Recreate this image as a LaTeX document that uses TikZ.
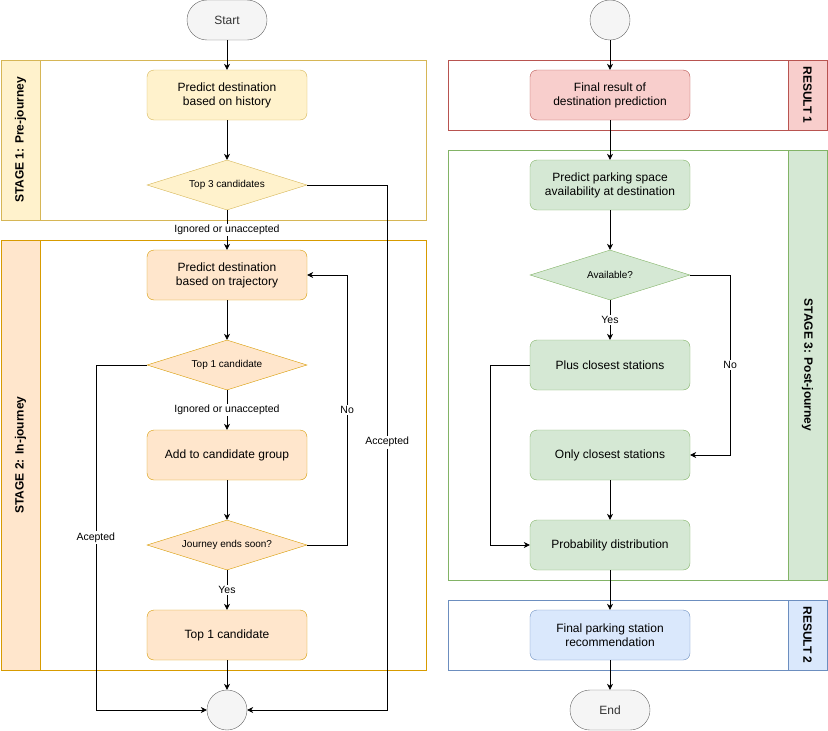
\documentclass[tikz,border=0pt]{standalone}
\usepackage{fontspec}
\setmainfont{Liberation Sans}
\usetikzlibrary{shapes.geometric, arrows.meta}

\definecolor{yelfill}{HTML}{FFF2CC}
\definecolor{yelline}{HTML}{D6B656}
\definecolor{orafill}{HTML}{FFE6CC}
\definecolor{oraline}{HTML}{D79B00}
\definecolor{redfill}{HTML}{F8CECC}
\definecolor{redline}{HTML}{B85450}
\definecolor{grnfill}{HTML}{D5E8D4}
\definecolor{grnline}{HTML}{82B366}
\definecolor{blufill}{HTML}{DAE8FC}
\definecolor{bluline}{HTML}{6C8EBF}
\definecolor{gryfill}{HTML}{F5F5F5}
\definecolor{gryline}{HTML}{666666}

\tikzset{
    box/.style={draw, rounded corners=7pt, minimum width=160pt, minimum height=50pt,
        align=center, font=\fontsize{12}{14}\selectfont},
    test/.style={diamond, draw, aspect=3.2, minimum width=160pt, minimum height=50pt,
        inner sep=0pt, font=\fontsize{10}{12}\selectfont},
    term/.style={draw=gryline, fill=gryfill, text=black!80, rounded corners=20pt,
        minimum width=80pt, minimum height=40pt, font=\fontsize{12}{14}\selectfont},
    dot/.style={circle, draw=gryline, fill=gryfill, minimum size=40pt, inner sep=0pt},
    frame/.style={draw, minimum width=#1, inner sep=0pt},
    strip/.style={draw, minimum height=39pt, inner sep=0pt, font=\bfseries\fontsize{12}{14}\selectfont},
    lbl/.style={fill=white, inner sep=1.5pt, font=\fontsize{10.5}{12}\selectfont},
    arr/.style={semithick, -{Stealth[length=6pt, width=6pt, inset=2pt]}},
}

\begin{document}
\begin{tikzpicture}[x=1pt, y=-1pt]
    \useasboundingbox (0,0) rectangle (828,731);

    % left column
    \node [frame=425pt, draw=yelline, minimum height=160pt] (stage1) at (213.5,140) {};
    \node [strip, fill=yelfill, draw=yelline, minimum width=160pt, rotate=90] (stage1h) at (20.5,140) {STAGE 1: Pre-journey};
    \node [frame=425pt, draw=oraline, minimum height=430pt] (stage2) at (213.5,455) {};
    \node [strip, fill=orafill, draw=oraline, minimum width=430pt, rotate=90] (stage2h) at (20.5,455) {STAGE 2: In-journey};

    \node [term] (start) at (227,20) {Start};
    \node [box, fill=yelfill, draw=yelline] (hist) at (227,95) {Predict destination\\based on history};
    \node [test, fill=yelfill, draw=yelline] (top3) at (227,185) {Top 3 candidates};
    \node [box, fill=orafill, draw=oraline] (traj) at (227,275) {Predict destination\\based on trajectory};
    \node [test, fill=orafill, draw=oraline] (top1) at (227,365) {Top 1 candidate};
    \node [box, fill=orafill, draw=oraline] (group) at (227,455) {Add to candidate group};
    \node [test, fill=orafill, draw=oraline] (ends) at (227,545) {Journey ends soon?};
    \node [box, fill=orafill, draw=oraline] (best) at (227,635) {Top 1 candidate};
    \node [dot] (stop) at (227,710) {};

    \draw [arr] (start) -- (hist);
    \draw [arr] (hist) -- (top3);
    \draw [arr] (top3) -- node [lbl] {Ignored or unaccepted} (traj);
    \draw [arr] (traj) -- (top1);
    \draw [arr] (top1) -- node [lbl] {Ignored or unaccepted} (group);
    \draw [arr] (group) -- (ends);
    \draw [arr] (ends) -- node [lbl] {Yes} (best);
    \draw [arr] (best) -- (stop);
    \draw [arr] (top3.east) -- ++(80,0) |- node [lbl, pos=0.245] {Accepted} (stop.east);
    \draw [arr] (top1.west) -- ++(-51,0) |- node [lbl, pos=0.25] {Acepted} (stop.west);
    \draw [arr] (ends.east) -- ++(40,0) |- node [lbl, pos=0.25] {No} (traj.east);

    % right column
    \node [frame=379pt, draw=redline, minimum height=70pt] (res1) at (637.5,95) {};
    \node [strip, fill=redfill, draw=redline, minimum width=70pt, rotate=-90] (res1h) at (807.5,95) {RESULT 1};
    \node [frame=379pt, draw=grnline, minimum height=430pt] (stage3) at (637.5,365) {};
    \node [strip, fill=grnfill, draw=grnline, minimum width=430pt, rotate=-90] (stage3h) at (807.5,365) {STAGE 3: Post-journey};
    \node [frame=379pt, draw=bluline, minimum height=70pt] (res2) at (637.5,635) {};
    \node [strip, fill=blufill, draw=bluline, minimum width=70pt, rotate=-90] (res2h) at (807.5,635) {RESULT 2};

    \node [dot] (begin2) at (610,20) {};
    \node [box, fill=redfill, draw=redline] (final) at (610,95) {Final result of\\destination prediction};
    \node [box, fill=grnfill, draw=grnline] (space) at (610,185) {Predict parking space\\availability at destination};
    \node [test, fill=grnfill, draw=grnline] (avail) at (610,275) {Available?};
    \node [box, fill=grnfill, draw=grnline] (plus) at (610,365) {Plus closest stations};
    \node [box, fill=grnfill, draw=grnline] (only) at (610,455) {Only closest stations};
    \node [box, fill=grnfill, draw=grnline] (prob) at (610,545) {Probability distribution};
    \node [box, fill=blufill, draw=bluline] (recom) at (610,635) {Final parking station\\recommendation};
    \node [term] (finish) at (610,710) {End};

    \draw [arr] (begin2) -- (final);
    \draw [arr] (final) -- (space);
    \draw [arr] (space) -- (avail);
    \draw [arr] (avail) -- node [lbl] {Yes} (plus);
    \draw [arr] (only) -- (prob);
    \draw [arr] (prob) -- (recom);
    \draw [arr] (recom) -- (finish);
    \draw [arr] (avail.east) -- ++(40,0) |- node [lbl, pos=0.25] {No} (only.east);
    \draw [arr] (plus.west) -- ++(-40,0) |- (prob.west);
\end{tikzpicture}
\end{document}
